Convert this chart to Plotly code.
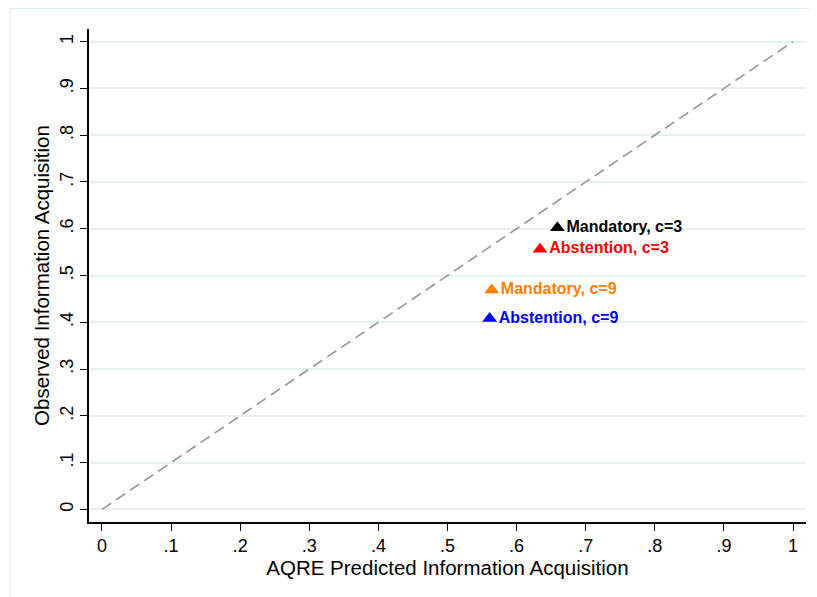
import plotly.graph_objects as go

labels = ["Mandatory, c=3", "Abstention, c=3", "Mandatory, c=9", "Abstention, c=9"]
predicted = [0.659, 0.634, 0.564, 0.561]
observed = [0.602, 0.556, 0.469, 0.408]
colors = ["black", "red", "#ff8000", "blue"]
ticks = [0, 0.1, 0.2, 0.3, 0.4, 0.5, 0.6, 0.7, 0.8, 0.9, 1]
tick_text = ["0", ".1", ".2", ".3", ".4", ".5", ".6", ".7", ".8", ".9", "1"]
diag = [0, 1]

FONT = "Liberation Sans, Arial, Helvetica, sans-serif"

fig = go.Figure()
fig.add_trace(go.Scatter(x=diag, y=diag, mode="lines",
                         line=dict(color="#9a9a9a", width=1.7, dash="11px,6px"),
                         showlegend=False, hoverinfo="skip"))
for lab, px, ob, c in zip(labels, predicted, observed, colors):
    fig.add_trace(go.Scatter(x=[px], y=[ob], mode="markers+text", text=[lab],
                             textposition="middle right",
                             marker=dict(symbol="triangle-up", size=13, color=c),
                             textfont=dict(color=c, size=16, family=FONT, weight="bold"),
                             showlegend=False, cliponaxis=False))

# page body adds an 8px offset; figure sized so the plot area lands where the reference has it
fig.update_layout(
    width=809, height=589,
    margin=dict(l=81, r=11, t=21, b=75),
    paper_bgcolor="white", plot_bgcolor="white",
    font=dict(family=FONT, color="black"),
    xaxis=dict(range=[-0.0188, 1.0188], tickvals=ticks, ticktext=tick_text, automargin=False,
               showgrid=False, zeroline=False, showline=True, linecolor="black",
               linewidth=1.5, ticks="outside", ticklen=7, tickwidth=1.2, tickcolor="black",
               tickfont=dict(size=18),
               title=dict(text="AQRE Predicted Information Acquisition", font=dict(size=20.5), standoff=2)),
    yaxis=dict(range=[-0.027, 1.027], tickvals=ticks, ticktext=tick_text, automargin=False,
               showgrid=True, gridcolor="#e8f0f2", gridwidth=1.5, zeroline=False,
               showline=True, linecolor="black", linewidth=1.5,
               ticks="outside", ticklen=7, tickwidth=1.2, tickcolor="black",
               tickangle=-90, tickfont=dict(size=18),
               title=dict(text="Observed Information Acquisition", font=dict(size=20.5), standoff=2)),
    shapes=[dict(type="rect", xref="paper", yref="paper",
                 x0=(2 - 81) / 717, x1=1.2, y0=-0.3, y1=(514 - 0.7) / 493,
                 line=dict(color="#e3ecee", width=1.2), fillcolor="rgba(0,0,0,0)", layer="below")],
)

fig.write_html("out.html")
